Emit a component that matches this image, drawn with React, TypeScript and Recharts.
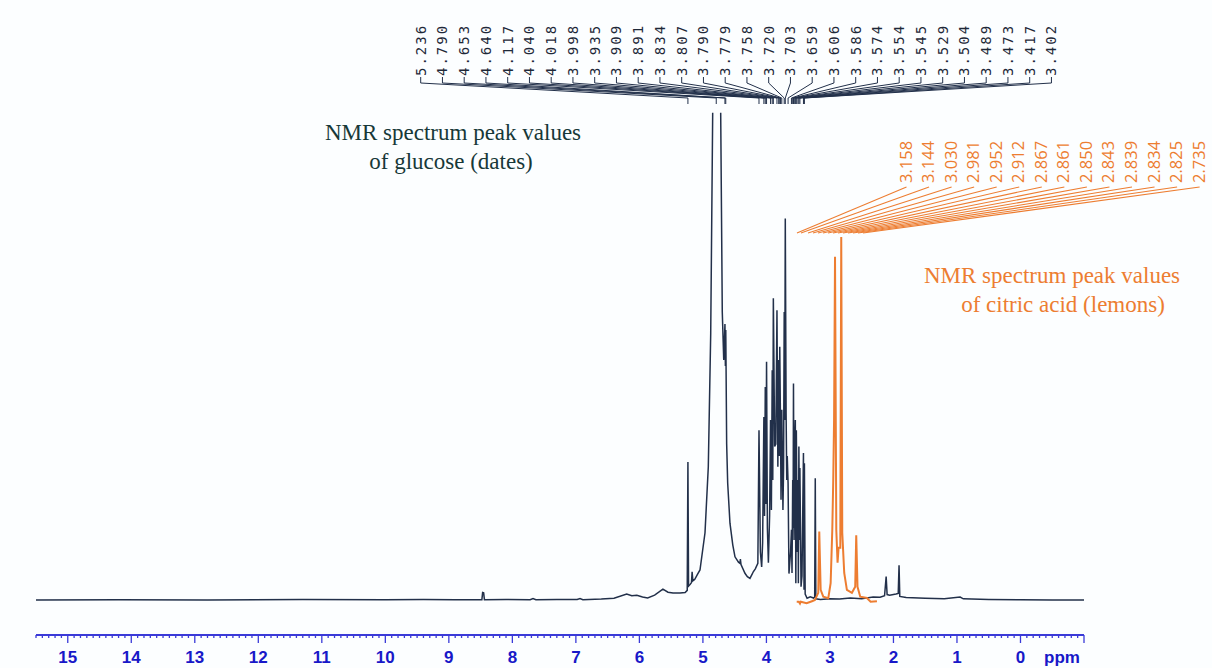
import React from 'react';
import { LineChart, Line, XAxis, YAxis, ReferenceLine, ReferenceDot } from 'recharts';

// ---------- layout ----------
const W = 1212;
const H = 668;
const PLOT_LEFT = 36;
const PLOT_RIGHT = 1084;
const PLOT_BOTTOM = 635;
const X_DOMAIN: [number, number] = [-1, 15.5];
const Y_DOMAIN: [number, number] = [-35 / 6, 100];

const pxToPpm = (px: number) =>
  X_DOMAIN[1] - ((px - PLOT_LEFT) * (X_DOMAIN[1] - X_DOMAIN[0])) / (PLOT_RIGHT - PLOT_LEFT);
const pyToVal = (py: number) => Y_DOMAIN[1] - (py * (Y_DOMAIN[1] - Y_DOMAIN[0])) / PLOT_BOTTOM;

// ---------- data ----------
// glucose (dates) spectrum: [ppm, intensity]; null = off-scale (clipped) region
const glucoseSpectrum: [number, number | null][] = [
  [15.5, 0.0], [14.2, 0.05], [12.8, 0.0], [11.3, 0.1], [10.0, 0.05], [9.4, 0.1], [8.9, 0.05],
  [8.48, 0.05], [8.468, 1.25], [8.452, 1.2], [8.44, 0.05], [8.1, 0.1],
  [7.72, 0.05], [7.675, 0.25], [7.63, 0.05], [7.3, 0.1], [6.98, 0.1], [6.935, 0.25], [6.89, 0.05],
  [6.6, 0.15], [6.4, 0.3], [6.2, 1.0], [6.12, 0.7], [6.04, 0.8], [5.95, 0.5], [5.87, 0.35],
  [5.76, 0.8], [5.63, 1.8], [5.55, 1.3], [5.47, 1.15], [5.36, 1.15], [5.28, 1.25], [5.247, 1.6],
  [5.236, 23.0], [5.226, 2.3], [5.2, 2.6], [5.18, 2.9], [5.17, 4.7], [5.158, 3.2], [5.13, 3.4],
  [5.09, 4.2], [5.046, 5.0], [4.967, 11.2], [4.915, 22.2], [4.877, 44.5], [4.846, 81.2],
  [4.79, null],
  [4.72, 81.2], [4.695, 48], [4.672, 40], [4.653, 46], [4.646, 39], [4.64, 45], [4.626, 26],
  [4.61, 19.5], [4.574, 12.8], [4.53, 9.2], [4.495, 7.2], [4.44, 6.3], [4.417, 6.1], [4.41, 6.8],
  [4.4, 5.9], [4.338, 4.45], [4.3, 3.9], [4.259, 3.6], [4.225, 4.3], [4.207, 4.7], [4.175, 5.2],
  [4.135, 6.1], [4.117, 28.3], [4.095, 8.0], [4.075, 5.5], [4.06, 9.5], [4.04, 30.5], [4.03, 14],
  [4.018, 35.5], [4.008, 16], [3.998, 39.7], [3.985, 12], [3.969, 6.2], [3.95, 14], [3.935, 30.0],
  [3.922, 15], [3.909, 38.3], [3.9, 20], [3.891, 50.3], [3.87, 25.6], [3.852, 26], [3.834, 48.3],
  [3.82, 22.2], [3.807, 40], [3.798, 24], [3.79, 42.2], [3.779, 30], [3.77, 16.7], [3.758, 31.7],
  [3.74, 15], [3.73, 22], [3.72, 48], [3.712, 30], [3.703, 63.6], [3.69, 31], [3.68, 20],
  [3.672, 24], [3.659, 19.4], [3.645, 4.4], [3.62, 8], [3.606, 11.7], [3.597, 4.5], [3.586, 20],
  [3.58, 12], [3.574, 36.1], [3.565, 10], [3.554, 26], [3.545, 30], [3.537, 2.8], [3.529, 28.3],
  [3.515, 8], [3.504, 20], [3.497, 2.8], [3.489, 25.6], [3.48, 10], [3.473, 22], [3.455, 2.2],
  [3.44, 4], [3.417, 24.5], [3.408, 1.7], [3.402, 22.8], [3.39, 1.0], [3.36, 0.3], [3.31, 0.55],
  [3.257, 0.33], [3.24, 0.5], [3.231, 20.3], [3.222, 0.2], [3.15, 0.1], [3.0, 0.2], [2.85, 0.15],
  [2.68, 0.35], [2.5, 0.2], [2.32, 0.5], [2.21, 0.45], [2.14, 0.7], [2.115, 3.9], [2.1, 0.9],
  [2.06, 0.8], [1.96, 1.0], [1.925, 1.1], [1.912, 5.8], [1.9, 0.6], [1.8, 0.4], [1.5, 0.3],
  [1.2, 0.2], [0.95, 0.5], [0.9, 0.2], [0.5, 0.1], [0.0, 0.05], [-0.5, 0.0], [-1.0, 0.0],
];

// citric acid (lemons) spectrum: [ppm, intensity]
const citricSpectrum: [number, number][] = [
  [3.523, -0.3], [3.49, -0.3], [3.472, -0.6], [3.46, -0.3], [3.367, -0.55], [3.283, -0.2],
  [3.236, 0.0], [3.184, 1.2], [3.168, 11.4], [3.146, 1.7], [3.105, 0.55], [3.026, 0.3],
  [2.989, 2.8], [2.963, 11.7], [2.948, 20], [2.935, 30], [2.92, 57.2], [2.9, 11.7], [2.88, 6.2],
  [2.864, 8.7], [2.837, 8.7], [2.822, 60.5], [2.806, 11.2], [2.775, 4.5], [2.733, 1.7],
  [2.654, 1.2], [2.602, 2.2], [2.586, 10.8], [2.566, 2.2], [2.523, 0.55], [2.418, 0.33],
  [2.36, -0.3], [2.26, -0.2],
];

const glucoseLabels = [
  '5.236', '4.790', '4.653', '4.640', '4.117', '4.040', '4.018', '3.998', '3.935', '3.909',
  '3.891', '3.834', '3.807', '3.790', '3.779', '3.758', '3.720', '3.703', '3.659', '3.606',
  '3.586', '3.574', '3.554', '3.545', '3.529', '3.504', '3.489', '3.473', '3.417', '3.402',
];

const citricLabels = [
  '3.158', '3.144', '3.030', '2.981', '2.952', '2.912', '2.867', '2.861', '2.850', '2.843',
  '2.839', '2.834', '2.825', '2.735',
];

// where each citric label leader line ends (ppm on the shared axis, as drawn)
const citricLineEnds = [
  3.519, 3.456, 3.345, 3.267, 3.188, 3.109, 3.031, 2.952, 2.873, 2.794, 2.716, 2.637, 2.558, 2.479,
];

const majorTicks = [15, 14, 13, 12, 11, 10, 9, 8, 7, 6, 5, 4, 3, 2, 1, 0];
const axisTicks = Array.from({ length: 166 }, (_, i) => Math.round((-1 + i * 0.1) * 10) / 10);

const glucoseData = glucoseSpectrum.map(([ppm, v]) => ({ ppm, v }));
const citricData = citricSpectrum.map(([ppm, v]) => ({ ppm, v }));

// ---------- styles ----------
const AXIS_BLUE = '#3a3ad8';
const TICK_TEXT = '#1818c8';
const DARK = '#22304a';
const ORANGE = '#ED7D31';

// label slots (pixel layout of the label rows)
const G_SLOT_X0 = 420.7;
const G_SLOT_DX = 21.75;
const C_SLOT_X0 = 906.5;
const C_SLOT_DX = 22.55;

const AxisTick = (props: any) => {
  const { x, y, payload } = props;
  const v: number = payload.value;
  const isInt = Math.abs(v - Math.round(v)) < 1e-6;
  const isMajor = isInt && majorTicks.includes(Math.round(v));
  return (
    <g>
      <line x1={x} x2={x} y1={y} y2={y + (isInt ? 8 : 3)} stroke={AXIS_BLUE} strokeWidth={1.3} />
      {isMajor && (
        <text
          x={x}
          y={y + 28}
          textAnchor="middle"
          fill={TICK_TEXT}
          fontFamily="'Liberation Sans', Arial, sans-serif"
          fontWeight={700}
          fontSize={17}
        >
          {Math.round(v)}
        </text>
      )}
      {isInt && Math.round(v) === -1 && (
        <text
          x={x - 22}
          y={y + 28}
          textAnchor="middle"
          fill={TICK_TEXT}
          fontFamily="'Liberation Sans', Arial, sans-serif"
          fontWeight={700}
          fontSize={17}
        >
          ppm
        </text>
      )}
    </g>
  );
};

const rotShape = (text: string, color: string, font: string, size: number, spacing: number, off: number) =>
  (p: any) => (
    <text
      transform={`translate(${p.cx + off},${p.cy}) rotate(-90)`}
      x={0}
      y={0}
      fill={color}
      fontFamily={font}
      fontSize={size}
      letterSpacing={spacing}
      textAnchor="start"
    >
      {text}
    </text>
  );

export default function App() {
  const gY0 = pyToVal(77);
  const gY1 = pyToVal(83);
  const gY2 = pyToVal(98);
  const gY3 = pyToVal(104);
  const gText = pyToVal(76);
  const cY0 = pyToVal(187);
  const cY1 = pyToVal(233);
  const cText = pyToVal(183);

  return (
    <div style={{ position: 'absolute', left: 0, top: 0, width: W, height: H, background: '#fcfeff' }}>
      <LineChart width={W} height={H} margin={{ top: 0, right: W - PLOT_RIGHT, bottom: 0, left: PLOT_LEFT }}>
        <XAxis
          type="number"
          dataKey="ppm"
          domain={X_DOMAIN}
          reversed
          allowDataOverflow
          ticks={axisTicks}
          interval={0}
          tick={<AxisTick />}
          tickLine={false}
          tickSize={0}
          tickMargin={0}
          axisLine={{ stroke: AXIS_BLUE, strokeWidth: 2 }}
          height={H - PLOT_BOTTOM}
        />
        <YAxis type="number" domain={Y_DOMAIN} hide allowDataOverflow />

        <Line
          data={glucoseData}
          dataKey="v"
          type="linear"
          stroke={DARK}
          strokeWidth={1.5}
          dot={false}
          connectNulls={false}
          isAnimationActive={false}
        />
        <Line
          data={citricData}
          dataKey="v"
          type="linear"
          stroke={ORANGE}
          strokeWidth={2}
          dot={false}
          isAnimationActive={false}
        />

        {glucoseLabels.map((lab, i) => {
          const slot = pxToPpm(G_SLOT_X0 + i * G_SLOT_DX);
          const peak = parseFloat(lab);
          return (
            <React.Fragment key={'g' + i}>
              <ReferenceLine
                ifOverflow="visible"
                segment={[{ x: slot, y: gY0 }, { x: slot, y: gY1 }]}
                stroke={DARK}
                strokeWidth={1}
              />
              <ReferenceLine
                ifOverflow="visible"
                segment={[{ x: slot, y: gY1 }, { x: peak, y: gY2 }]}
                stroke={DARK}
                strokeWidth={1}
              />
              <ReferenceLine
                ifOverflow="visible"
                segment={[{ x: peak, y: gY2 }, { x: peak, y: gY3 }]}
                stroke={DARK}
                strokeWidth={1}
              />
              <ReferenceDot
                x={slot}
                y={gText}
                ifOverflow="visible"
                shape={rotShape(lab, '#1e2838', "'DejaVu Sans Mono', monospace", 14, 2, 5)}
              />
            </React.Fragment>
          );
        })}

        {citricLabels.map((lab, i) => {
          const slot = pxToPpm(C_SLOT_X0 + i * C_SLOT_DX);
          return (
            <React.Fragment key={'c' + i}>
              <ReferenceLine
                ifOverflow="visible"
                segment={[{ x: slot, y: cY0 }, { x: citricLineEnds[i], y: cY1 }]}
                stroke={ORANGE}
                strokeWidth={1.1}
              />
              <ReferenceDot
                x={slot}
                y={cText}
                ifOverflow="visible"
                shape={rotShape(lab, ORANGE, "'Open Sans', sans-serif", 16.5, 0, 5)}
              />
            </React.Fragment>
          );
        })}
      </LineChart>

      <svg
        width={W}
        height={H}
        style={{ position: 'absolute', left: 0, top: 0, pointerEvents: 'none' }}
      >
        <g fontFamily="'Liberation Serif', 'Times New Roman', serif" fontSize={23} textAnchor="middle">
          <text x={453} y={140} fill="#173838">NMR spectrum peak values</text>
          <text x={451} y={169} fill="#173838">of glucose (dates)</text>
          <text x={1052} y={283} fill={ORANGE}>NMR spectrum peak values</text>
          <text x={1063} y={312} fill={ORANGE}>of citric acid (lemons)</text>
        </g>
      </svg>
    </div>
  );
}
